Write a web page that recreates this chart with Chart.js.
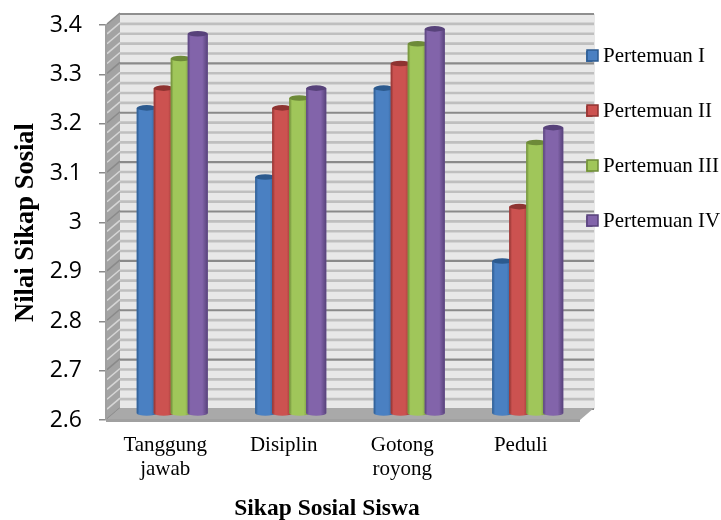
<!DOCTYPE html>
<html><head><meta charset="utf-8">
<style>html,body{margin:0;padding:0;background:#fff}#w{width:721px;height:520px}</style>
<script src="https://cdn.jsdelivr.net/npm/chart.js@4"></script></head>
<body><div id="w"><canvas id="c" width="721" height="520"></canvas></div>
<script>
const categories = [['Tanggung','jawab'],'Disiplin',['Gotong','royong'],'Peduli'];
const seriesNames = ['Pertemuan I','Pertemuan II','Pertemuan III','Pertemuan IV'];
const pertemuan1 = [3.22,3.08,3.26,2.91];
const pertemuan2 = [3.26,3.22,3.31,3.02];
const pertemuan3 = [3.32,3.24,3.35,3.15];
const pertemuan4 = [3.37,3.26,3.38,3.18];
const seriesValues = [pertemuan1,pertemuan2,pertemuan3,pertemuan4];
const baseColors = ['#4a80c2','#cc5250','#a0c65a','#8264aa'];
const darkColors = ['#2c5a8e','#8e3331','#6d8a38','#57427a'];
const yMin = 2.6, yMax = 3.4, majorStep = 0.1, minorStep = 0.02;
const DX = 14, DY = 12, BX = 7, BY = -6;
const LEG_PAD = 34, LEG_X = 586, LEG_Y = 46, TITLE_SHIFT = -16;

const scenePlugin = {
  id:'scene',
  beforeLayout(chart){
    const lg = chart.legend;
    if(lg && !lg._wrapped){
      const f = lg.fit;
      lg.fit = function(){ f.call(this); this.width = 141; };
      lg._wrapped = true;
    }
  },
  afterLayout(chart){
    const lg = chart.legend, p = lg.options.labels.padding;
    lg.left = LEG_X - p; lg.right = 721;
    lg.top = LEG_Y - p; lg.bottom = lg.top + lg.height;
    const sx = chart.scales.x;
    if(!sx._shifted){
      const dt = sx.drawTitle;
      sx.drawTitle = function(){
        const c=this.ctx; c.save(); c.translate(TITLE_SHIFT,0); dt.apply(this,arguments); c.restore();
      };
      sx._shifted = true;
    }
  },
  beforeDraw(chart){
    const {ctx, chartArea:a, scales:{y}} = chart;
    const L=a.left, R=a.right, T=a.top, B=a.bottom;
    ctx.save();
    ctx.fillStyle='#e8e8e8'; ctx.fillRect(L+DX,T-DY+1,R-L+1,B-T);
    ctx.fillStyle='#a3a3a3';
    ctx.beginPath();ctx.moveTo(L,T);ctx.lineTo(L+DX,T-DY);ctx.lineTo(L+DX,B-DY);ctx.lineTo(L,B);ctx.closePath();ctx.fill();
    const n = Math.round((yMax-yMin)/minorStep);
    for(let i=0;i<=n;i++){
      const v = yMin+i*minorStep, py = y.getPixelForValue(v);
      const major = i%5===0;
      ctx.strokeStyle = major?'#8a8a8a':'#bfbfbf';
      ctx.lineWidth = major?2.2:2.6;
      ctx.beginPath();ctx.moveTo(L+DX,py-DY+1);ctx.lineTo(R+DX,py-DY+1);ctx.stroke();
      ctx.strokeStyle = major?'#8a8a8a':'#d6d6d6';
      ctx.lineWidth = 1.6;
      ctx.beginPath();ctx.moveTo(L+1,py-1);ctx.lineTo(L+DX,py-DY);ctx.stroke();
    }
    ctx.fillStyle='#a9a9a9';
    ctx.beginPath();ctx.moveTo(L,B);ctx.lineTo(L+DX,B-DY);ctx.lineTo(R+DX,B-DY);ctx.lineTo(R,B);ctx.closePath();ctx.fill();
    ctx.strokeStyle='#8f8f8f';ctx.lineWidth=2;
    ctx.beginPath();ctx.moveTo(L+DX,T-DY+1);ctx.lineTo(R+DX,T-DY+1);ctx.stroke();
    ctx.restore();
  },
  beforeDatasetDraw(){ return false; },
  afterDatasetsDraw(chart){
    const ctx = chart.ctx;
    const {chartArea:a}=chart;
    ctx.save();ctx.strokeStyle='#a0a0a0';ctx.lineWidth=3;
    ctx.beginPath();ctx.moveTo(a.left,a.bottom+.5);ctx.lineTo(a.right,a.bottom+.5);ctx.stroke();
    ctx.restore();
    ctx.save(); ctx.translate(BX,BY);
    chart.data.datasets.forEach((ds,di)=>{
      chart.getDatasetMeta(di).data.forEach(el=>{
        const {x,y,base,width:w} = el.getProps(['x','y','base','width'],true);
        const l=x-w/2;
        const g=ctx.createLinearGradient(l,0,l+w,0);
        g.addColorStop(0,darkColors[di]);g.addColorStop(.14,baseColors[di]);
        g.addColorStop(.72,baseColors[di]);g.addColorStop(1,darkColors[di]);
        ctx.fillStyle=g;
        ctx.beginPath();ctx.ellipse(x,base,w/2,2.6,0,0,Math.PI*2);ctx.fill();
        el.draw(ctx);
        ctx.fillStyle=g;ctx.fillRect(l,y,w,base-y);
        ctx.fillStyle=darkColors[di];
        ctx.beginPath();ctx.ellipse(x,y,w/2,2.8,0,0,Math.PI*2);ctx.fill();
      });
    });
    ctx.restore();
    const lg = chart.legend;
    ctx.save();
    lg.legendItems.forEach((it,i)=>{
      const sy = 50 + i*55;
      ctx.fillStyle=baseColors[i];ctx.strokeStyle=darkColors[i];ctx.lineWidth=1.5;
      ctx.fillRect(LEG_X+1,sy,11,11);ctx.strokeRect(LEG_X+1,sy,11,11);
    });
    ctx.restore();
  }
};

new Chart(document.getElementById('c'),{
  type:'bar',
  data:{labels:categories,datasets:seriesNames.map((n,i)=>({
    label:n,data:seriesValues[i],backgroundColor:baseColors[i],borderWidth:0,base:yMin,
    categoryPercentage:0.574,barPercentage:1.176
  }))},
  plugins:[scenePlugin],
  options:{
    responsive:false,animation:false,
    layout:{padding:{top:25,left:0,right:0,bottom:0}},
    plugins:{
      tooltip:{enabled:false},
      legend:{position:'right',align:'start',
        labels:{boxWidth:6.5,boxHeight:11,padding:LEG_PAD,color:'#000',
          font:{family:'"Liberation Serif"',size:21},
          generateLabels(chart){
            return seriesNames.map((n,i)=>({text:n,fillStyle:baseColors[i],strokeStyle:baseColors[i],lineWidth:0,datasetIndex:i,fontColor:'#000'}));
          }}}
    },
    scales:{
      x:{
        afterFit(s){s.height=100;},
        grid:{display:false},border:{display:false},
        ticks:{color:'#000',font:{family:'"Liberation Serif"',size:21,lineHeight:1.14},maxRotation:0,autoSkip:false,padding:6},
        title:{display:true,text:'Sikap Sosial Siswa',color:'#000',font:{family:'"Liberation Serif"',size:23.5,weight:'bold'},padding:{top:14,bottom:-3}}
      },
      y:{
        min:yMin,max:yMax,
        afterFit(s){s.width=106;s.paddingTop=0;s.paddingBottom=0;},
        grid:{drawOnChartArea:false,color:'#8a8a8a',tickLength:7,lineWidth:1.5},
        border:{color:'#a0a0a0',width:2},
        ticks:{stepSize:majorStep,color:'#000',padding:17,font:{family:'"Open Sans"',size:23},
          callback:v=>String(+v.toFixed(1))},
        title:{display:true,text:'Nilai Sikap Sosial',color:'#000',font:{family:'"Liberation Serif"',size:26.5,weight:'bold'},padding:{top:10,bottom:4}}
      }
    }
  }
});
</script></body></html>
